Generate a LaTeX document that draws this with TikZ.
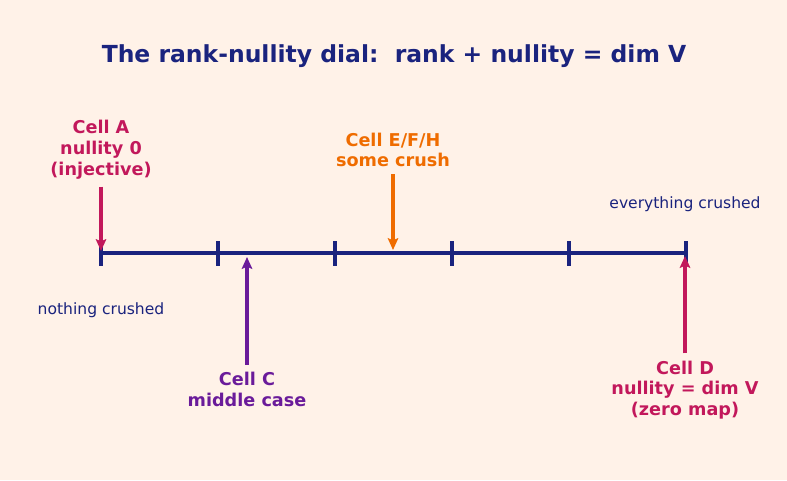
\documentclass[tikz,border=0pt]{standalone}
\usepackage{fontspec}
\setmainfont{DejaVu Sans}
\usetikzlibrary{positioning,arrows.meta}
\definecolor{dialnavy}{HTML}{1A237E}
\definecolor{dialpink}{HTML}{C2185B}
\definecolor{dialorange}{HTML}{EF6C00}
\definecolor{dialpurple}{HTML}{6A1B9A}
\definecolor{dialbg}{HTML}{FFF2E8}

\begin{document}
\begin{tikzpicture}[x=0.72pt, y=-0.72pt,
  celltext/.style={font=\fontsize{12.7}{15}\selectfont\bfseries, align=center, inner sep=1pt},
  endtext/.style={font=\fontsize{11.2}{13}\selectfont, text=dialnavy, inner sep=1pt},
  pointer/.style={-{Stealth[length=8.5pt, width=7.5pt, inset=1.5pt]}, line width=2.2pt, shorten <=4pt},
  tickmark/.style={dialnavy, line width=2.2pt}
]
  \fill[dialbg] (0,0) rectangle (787,480);
  \useasboundingbox (0,0) rectangle (787,480);

  \node[font=\fontsize{16.9}{20}\selectfont\bfseries, text=dialnavy] (title) at (394,56)
    {The rank-nullity dial:\ \ rank + nullity = dim V};

  % the dial
  \coordinate (left) at (101,253);
  \coordinate (right) at (686,253);
  \draw[dialnavy, line width=3.2pt] (left) -- (right);
  \foreach \i in {0,...,5}
    \draw[tickmark] (101+117*\i,241) -- (101+117*\i,266);

  \node[endtext] (nothing) at (101,310) {nothing crushed};
  \node[endtext] (everything) at (685,204) {everything crushed};

  % cells
  \node[celltext, text=dialpink] (cellA) at (101,150) {Cell A\\nullity 0\\(injective)};
  \node[celltext, text=dialorange] (cellE) at (393,150) {Cell E/F/H\\some crush};
  \node[celltext, text=dialpurple] (cellC) at (247,389) {Cell C\\middle case};
  \node[celltext, text=dialpink] (cellD) at (685,390) {Cell D\\nullity = dim V\\(zero map)};

  \coordinate (hitA) at (101,251);
  \coordinate (hitE) at (393,250);
  \coordinate (hitC) at (247,257);
  \coordinate (hitD) at (685,256);

  \draw[pointer, dialpink] (cellA) -- (hitA);
  \draw[pointer, dialorange] (cellE) -- (hitE);
  \draw[pointer, dialpurple] (cellC) -- (hitC);
  \draw[pointer, dialpink] (cellD) -- (hitD);
\end{tikzpicture}
\end{document}
